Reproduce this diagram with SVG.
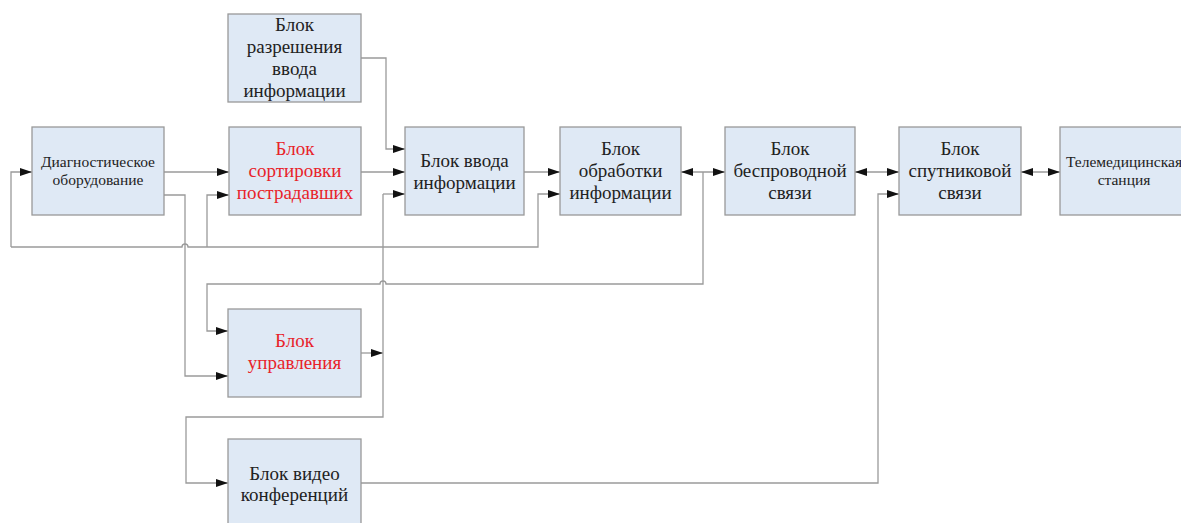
<svg xmlns="http://www.w3.org/2000/svg" width="1181" height="523" viewBox="0 0 1181 523">
<style>
.box{fill:#dfe9f5;stroke:#999;stroke-width:1.3}
.t{font-family:"Liberation Serif","DejaVu Serif","Times New Roman",serif;font-size:19px;fill:#222;text-anchor:middle}
.s{font-size:15.5px}
.r{fill:#e8232a}
.c path{fill:none;stroke:#9a9a9a;stroke-width:1.3}
.a{marker-end:url(#ah)}
.b{marker-end:url(#ah);marker-start:url(#ah)}
</style>
<defs>
<marker id="ah" markerUnits="userSpaceOnUse" markerWidth="13" markerHeight="9" refX="12" refY="4" orient="auto-start-reverse" viewBox="0 0 13 9">
<path d="M0,0 L12,4 L0,8 z" fill="#111"/>
</marker>
</defs>
<rect width="1181" height="523" fill="#fff"/>
<g class="c" id="connectors">
<path class="a" d="M164,172 H229"/>
<path class="a" d="M164,195 H185 V376 H228"/>
<path class="a" d="M11,247 V172 H32"/>
<path class="a" d="M11,247 H182 a3,3 0 0 1 6,0 H538 V194 H560"/>
<path class="a" d="M207,247 V195 H229"/>
<path class="a" d="M361,172 H405"/>
<path class="a" d="M361,58 H386 V149 H405"/>
<path class="a" d="M524,172 H560"/>
<path class="b" d="M681,172 H725"/>
<path class="a" d="M703,172 V284 H386 a3,3 0 0 0 -6,0 H207 V331 H228"/>
<path class="b" d="M855,172 H899"/>
<path class="b" d="M1021,172 H1060"/>
<path class="a" d="M361,353 H383"/>
<path class="a" d="M383,194 H405"/>
<path class="a" d="M383,194 V417 H186 V483 H228"/>
<path class="a" d="M361,483 H878 V194 H899"/>
</g>
<g id="diag"><rect class="box" x="32" y="127" width="132" height="88"/>
<text class="t s" x="98" y="167">Диагностическое</text><text class="t s" x="98" y="185">оборудование</text></g>
<g id="perm"><rect class="box" x="228" y="14" width="133" height="88"/>
<text class="t" x="294.5" y="31">Блок</text><text class="t" x="294.5" y="53">разрешения</text><text class="t" x="294.5" y="75">ввода</text><text class="t" x="294.5" y="97">информации</text></g>
<g id="sort"><rect class="box" x="229" y="127" width="132" height="88"/>
<text class="t r" x="295" y="155">Блок</text><text class="t r" x="295" y="177">сортировки</text><text class="t r" x="295" y="199">пострадавших</text></g>
<g id="input"><rect class="box" x="405" y="127" width="119" height="88"/>
<text class="t" x="464.5" y="167">Блок ввода</text><text class="t" x="464.5" y="189">информации</text></g>
<g id="proc"><rect class="box" x="560" y="127" width="121" height="88"/>
<text class="t" x="620.5" y="155">Блок</text><text class="t" x="620.5" y="177">обработки</text><text class="t" x="620.5" y="199">информации</text></g>
<g id="wireless"><rect class="box" x="725" y="127" width="130" height="88"/>
<text class="t" x="790" y="155">Блок</text><text class="t" x="790" y="177">беспроводной</text><text class="t" x="790" y="199">связи</text></g>
<g id="sat"><rect class="box" x="899" y="127" width="122" height="88"/>
<text class="t" x="960" y="155">Блок</text><text class="t" x="960" y="177">спутниковой</text><text class="t" x="960" y="199">связи</text></g>
<g id="tele"><rect class="box" x="1060" y="127" width="128" height="88"/>
<text class="t s" x="1124" y="167">Телемедицинская</text><text class="t s" x="1124" y="185">станция</text></g>
<g id="ctrl"><rect class="box" x="228" y="309" width="133" height="88"/>
<text class="t r" x="294.5" y="347">Блок</text><text class="t r" x="294.5" y="369">управления</text></g>
<g id="video"><rect class="box" x="228" y="439" width="133" height="88"/>
<text class="t" x="294.5" y="480">Блок видео</text><text class="t" x="294.5" y="501">конференций</text></g>
</svg>
